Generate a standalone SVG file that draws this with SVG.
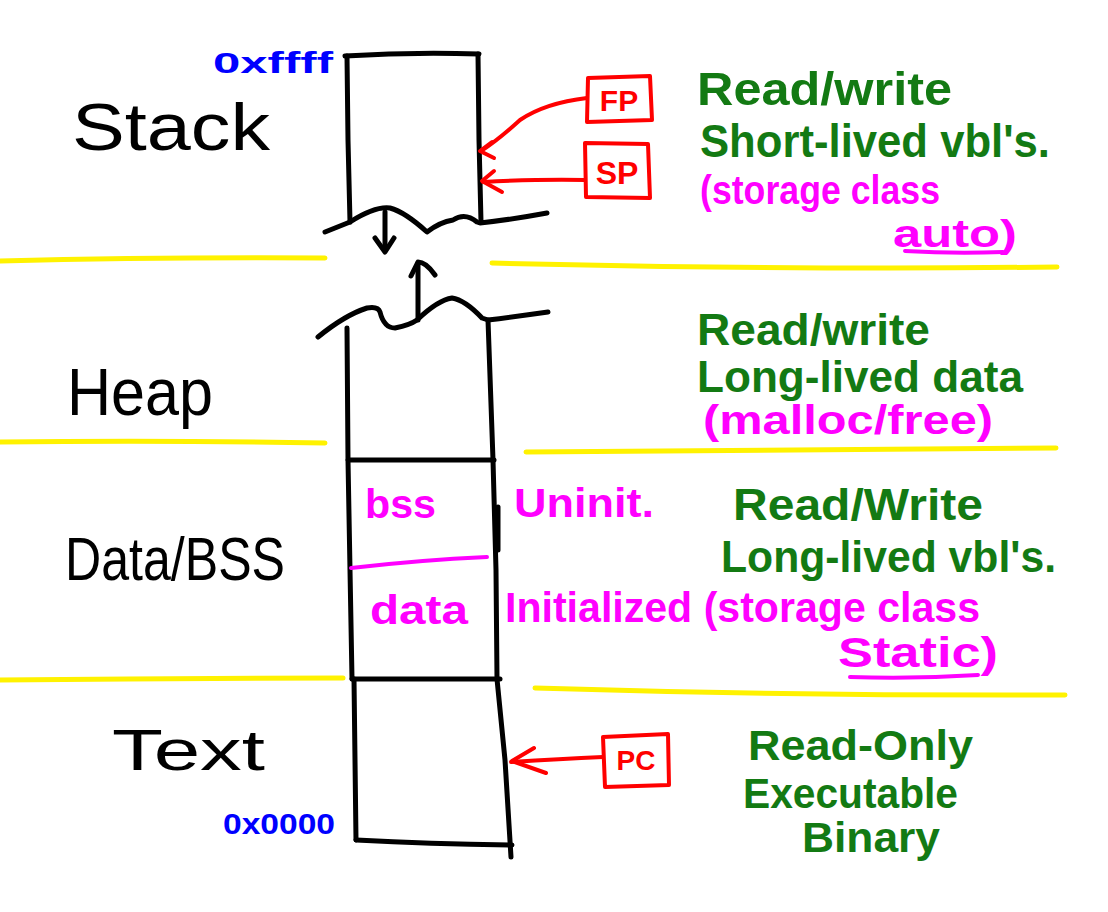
<svg xmlns="http://www.w3.org/2000/svg" width="1108" height="912" viewBox="0 0 1108 912">
<style>
.bg{fill:#ffffff}
.ink{fill:none;stroke:#000;stroke-width:5;stroke-linecap:round;stroke-linejoin:round}
.hl{fill:none;stroke:#fff200;stroke-width:5;stroke-linecap:round}
.red{fill:none;stroke:#ff0000;stroke-width:4;stroke-linecap:round;stroke-linejoin:round}
.mag{fill:none;stroke:#ff00ff;stroke-width:4;stroke-linecap:round}
.lbl{font-family:"Liberation Sans",Arial,sans-serif;fill:#000}
.grn{font-family:"Liberation Sans",Arial,sans-serif;fill:#137a13;font-weight:bold}
.pnk{font-family:"Liberation Sans",Arial,sans-serif;fill:#ff00ff;font-weight:bold}
.blu{font-family:"Liberation Sans",Arial,sans-serif;fill:#0000ff;font-weight:bold}
.rtx{font-family:"Liberation Sans",Arial,sans-serif;fill:#ff0000;font-weight:bold;text-anchor:middle}
</style>
<rect class="bg" width="1108" height="912"/>

<g id="dividers">
<path class="hl" d="M0,261 Q160,257 325,258"/>
<path class="hl" d="M492,263 Q780,270 1057,267"/>
<path class="hl" d="M0,442 Q160,440 325,443"/>
<path class="hl" d="M526,452 Q800,450 1056,448"/>
<path class="hl" d="M0,680 Q170,678 343,678"/>
<path class="hl" d="M535,688 Q800,696 1065,695"/>
</g>

<g id="stack">
<path class="ink" d="M350,222 L348,140 L347,56"/>
<path class="ink" d="M345,56 Q410,52 479,54"/>
<path class="ink" d="M478,54 L479,140 L481,222"/>
<path class="ink" d="M325,232 L350,222 Q375,206 390,208 Q405,212 427,232 Q440,222 453,220 Q465,212 477,222 L480,223 Q515,219 547,213"/>
<text class="lbl" x="72" y="150" font-size="66" textLength="198" lengthAdjust="spacingAndGlyphs">Stack</text>
<text class="blu" x="213" y="73" font-size="30" textLength="120" lengthAdjust="spacingAndGlyphs">0xffff</text>
<text class="grn" x="697" y="105" font-size="46" textLength="255" lengthAdjust="spacingAndGlyphs">Read/write</text>
<text class="grn" x="700" y="157" font-size="46" textLength="350" lengthAdjust="spacingAndGlyphs">Short-lived vbl's.</text>
<text class="pnk" x="700" y="204" font-size="40" textLength="240" lengthAdjust="spacingAndGlyphs">(storage class</text>
<text class="pnk" x="893" y="247" font-size="38" textLength="124" lengthAdjust="spacingAndGlyphs">auto)</text>
<path class="mag" d="M905,251 Q955,254 1003,252"/>
</g>

<g id="heap">
<path class="ink" d="M318,337 Q345,315 367,308 Q378,306 380,312 Q384,328 395,328 Q410,325 417,320 Q438,300 452,298 Q465,300 482,318 L488,320 Q520,316 548,312"/>
<path class="ink" d="M347,328 L348,460"/>
<path class="ink" d="M488,320 L493,460"/>
<path class="ink" d="M350,460 L494,460"/>
<text class="lbl" x="67" y="415" font-size="66" textLength="146" lengthAdjust="spacingAndGlyphs">Heap</text>
<text class="grn" x="697" y="345" font-size="44" textLength="233" lengthAdjust="spacingAndGlyphs">Read/write</text>
<text class="grn" x="697" y="392" font-size="44" textLength="326" lengthAdjust="spacingAndGlyphs">Long-lived data</text>
<text class="pnk" x="703" y="434" font-size="40" textLength="290" lengthAdjust="spacingAndGlyphs">(malloc/free)</text>
</g>

<g id="data-bss">
<path class="ink" d="M348,460 L350,570 L352,679"/>
<path class="ink" d="M493,460 L496,570 L497,679"/>
<path class="ink" d="M498,507 L498,550" stroke-width="7"/>
<path class="mag" d="M351,568 Q420,560 487,557"/>
<text class="lbl" x="65" y="580" font-size="62" textLength="220" lengthAdjust="spacingAndGlyphs">Data/BSS</text>
<text class="pnk" x="365" y="518" font-size="40" textLength="71" lengthAdjust="spacingAndGlyphs">bss</text>
<text class="pnk" x="514" y="517" font-size="40" textLength="140" lengthAdjust="spacingAndGlyphs">Uninit.</text>
<text class="pnk" x="370" y="624" font-size="40" textLength="98" lengthAdjust="spacingAndGlyphs">data</text>
<text class="pnk" x="505" y="622" font-size="42" textLength="475" lengthAdjust="spacingAndGlyphs">Initialized (storage class</text>
<text class="pnk" x="838" y="667" font-size="42" textLength="160" lengthAdjust="spacingAndGlyphs">Static)</text>
<path class="mag" d="M850,677 Q915,679 978,675"/>
<text class="grn" x="733" y="520" font-size="44" textLength="250" lengthAdjust="spacingAndGlyphs">Read/Write</text>
<text class="grn" x="721" y="572" font-size="44" textLength="335" lengthAdjust="spacingAndGlyphs">Long-lived vbl's.</text>
</g>

<g id="text-seg">
<path class="ink" d="M352,679 L500,679" stroke-width="6"/>
<path class="ink" d="M354,679 L355,760 L356,840"/>
<path class="ink" d="M497,679 L505,760 L511,857"/>
<path class="ink" d="M356,840 Q430,844 512,845"/>
<text class="lbl" x="112" y="770" font-size="58" textLength="153" lengthAdjust="spacingAndGlyphs">Text</text>
<text class="blu" x="223" y="834" font-size="30" textLength="112" lengthAdjust="spacingAndGlyphs">0x0000</text>
<text class="grn" x="748" y="760" font-size="42" textLength="225" lengthAdjust="spacingAndGlyphs">Read-Only</text>
<text class="grn" x="743" y="808" font-size="42" textLength="215" lengthAdjust="spacingAndGlyphs">Executable</text>
<text class="grn" x="802" y="852" font-size="42" textLength="138" lengthAdjust="spacingAndGlyphs">Binary</text>
</g>

<g id="reg-fp">
<path class="red" d="M588,78 L650,76 L652,120 L587,122 Z"/>
<text class="rtx" x="619" y="111" font-size="30">FP</text>
</g>
<g id="reg-sp">
<path class="red" d="M585,143 L648,144 L650,198 L586,197 Z"/>
<text class="rtx" x="617" y="184" font-size="32">SP</text>
</g>
<g id="reg-pc">
<path class="red" d="M603,737 L668,734 L669,785 L605,787 Z"/>
<text class="rtx" x="636" y="770" font-size="28">PC</text>
</g>

<g id="connectors">
<path class="red" d="M587,98 Q545,103 520,120 Q498,140 481,151"/>
<path class="red" d="M492,142 L480,151 L494,158"/>
<path class="red" d="M585,180 Q540,179 483,182"/>
<path class="red" d="M494,171 L482,181 L502,192"/>
<path class="red" d="M603,757 Q560,759 511,762"/>
<path class="red" d="M534,748 L512,761 L546,773"/>
<path class="ink" d="M385,212 L385,250"/>
<path class="ink" d="M375,238 L385,252 L394,238"/>
<path class="ink" d="M418,320 L418,263"/>
<path class="ink" d="M411,276 L418,262 Q426,262 435,275"/>
</g>
</svg>
